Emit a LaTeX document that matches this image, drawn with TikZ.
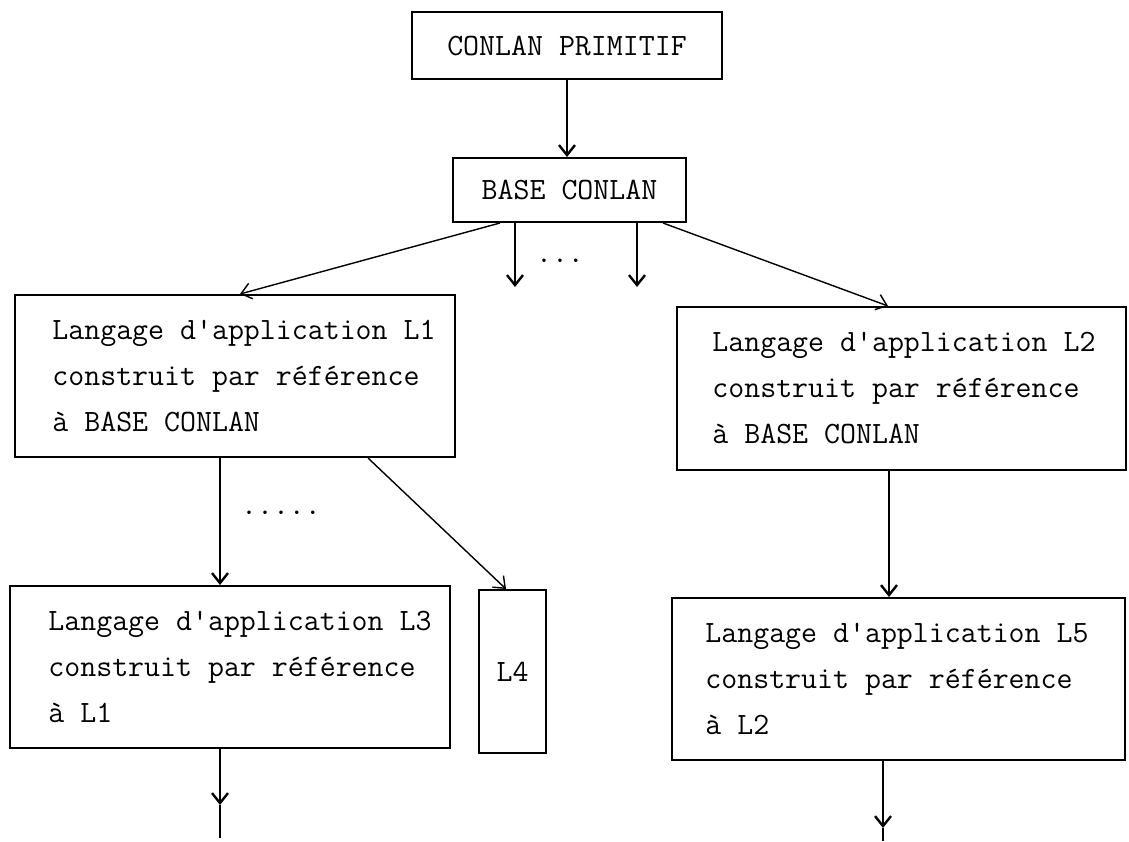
\documentclass[tikz,border=0pt]{standalone}
\usetikzlibrary{arrows.meta}
\begin{document}
\begin{tikzpicture}[x=0.5pt,y=-0.5pt,
  every node/.style={font=\fontsize{15.5}{23}\selectfont\ttfamily},
  box/.style={draw, line width=1pt, inner sep=0pt},
  txt/.style={align=left, inner sep=0pt, anchor=west},
  arr/.style={line width=1.2pt, -{Straight Barb[length=5pt,width=8pt]}},
  slant/.style={line width=0.7pt, -{Straight Barb[length=5pt,width=8pt]}},
  tail/.style={line width=1.2pt}]
\useasboundingbox (0,0) rectangle (1129,841);

% boxes
\node[box, minimum width=155pt, minimum height=33.5pt] (P) at (567,45.5) {CONLAN PRIMITIF};
\node[box, minimum width=116.5pt, minimum height=32pt] (B) at (569.5,190) {BASE CONLAN};
\node[box, minimum width=220pt, minimum height=81pt] (L1) at (235,376) {};
\node[box, minimum width=224.5pt, minimum height=81.5pt] (L2) at (901.5,388.5) {};
\node[box, minimum width=220pt, minimum height=81pt] (L3) at (230,667) {};
\node[box, minimum width=33.5pt, minimum height=81.5pt] (L4) at (512.5,671.5) {L4};
\node[box, minimum width=226.5pt, minimum height=81pt] (L5) at (898.5,679) {};

% box texts
\node[txt] (L1t) at (52,376) {Langage d'application L1\\construit par référence\\à BASE CONLAN};
\node[txt] (L2t) at (712,388) {Langage d'application L2\\construit par référence\\à BASE CONLAN};
\node[txt] (L3t) at (48,667) {Langage d'application L3\\construit par référence\\à L1};
\node[txt] (L5t) at (705,679) {Langage d'application L5\\construit par référence\\à L2};

% ellipsis marks
\node[anchor=base, inner sep=0pt] (dots1) at (560,262) {...};
\node[anchor=base, inner sep=0pt] (dots2) at (281,514) {.....};

% free ends
\coordinate (d1) at (515,287);
\coordinate (d2) at (637,287);
\coordinate (e3) at (220,805);
\coordinate (f3) at (220,838);
\coordinate (e5) at (883,828);
\coordinate (f5) at (883,841);

% connectors
\draw[arr] (P.south) -- (P.south |- B.north);
\draw[slant] (B.south -| 500,0) -- (L1.north -| 240,0);
\draw[arr] (B.south -| 515,0) -- (d1);
\draw[arr] (B.south -| 637,0) -- (d2);
\draw[slant] (B.south -| 663,0) -- (L2.north -| 888,0);
\draw[arr] (L1.south -| 220,0) -- (L3.north -| 220,0);
\draw[slant] (L1.south -| 368,0) -- (L4.north -| 506,0);
\draw[arr] (L2.south -| 889,0) -- (L5.north -| 889,0);
\draw[arr] (L3.south -| 220,0) -- (e3);
\draw[tail] (e3) -- (f3);
\draw[arr] (L5.south -| 883,0) -- (e5);
\draw[tail] (e5) -- (f5);
\end{tikzpicture}
\end{document}
